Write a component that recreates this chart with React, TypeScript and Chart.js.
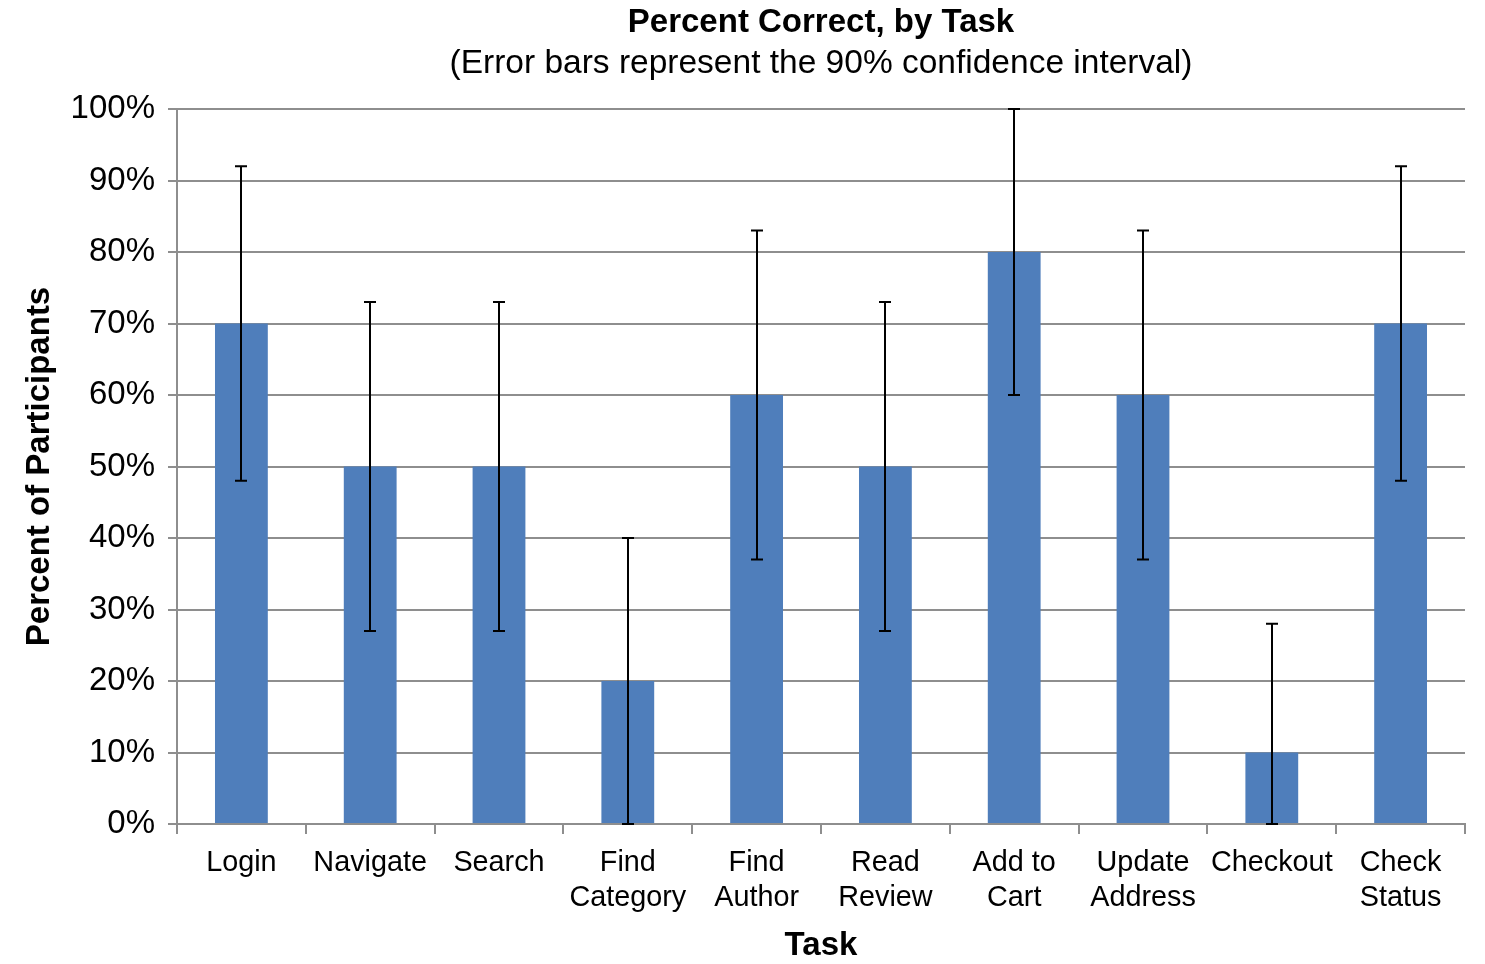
import React, { useEffect, useRef } from "react";
import { Chart, registerables } from "chart.js";

Chart.register(...registerables);

const categories: (string | string[])[] = [
  "Login",
  "Navigate",
  "Search",
  ["Find", "Category"],
  ["Find", "Author"],
  ["Read", "Review"],
  ["Add to", "Cart"],
  ["Update", "Address"],
  "Checkout",
  ["Check", "Status"],
];
const percentCorrect = [70, 50, 50, 20, 60, 50, 80, 60, 10, 70];
const ciLower = [48, 27, 27, 0, 37, 27, 60, 37, 0, 48];
const ciUpper = [92, 73, 73, 40, 83, 73, 100, 83, 28, 92];

const titleText = "Percent Correct, by Task";
const subtitleText = "(Error bars represent the 90% confidence interval)";
const xTitle = "Task";
const yTitle = "Percent of Participants";

const FONT = "'Liberation Sans', Arial, Helvetica, sans-serif";
const GRID = "#8e8e8e";

const errorBarPlugin = {
  id: "errorBars",
  afterDatasetsDraw(chart: any) {
    const meta = chart.getDatasetMeta(0);
    const y = chart.scales.y;
    const ctx = chart.ctx;
    ctx.save();
    ctx.strokeStyle = "#000";
    ctx.lineWidth = 2;
    meta.data.forEach((bar: any, i: number) => {
      const x = Math.round(bar.x);
      const yLo = y.getPixelForValue(ciLower[i]);
      const yHi = y.getPixelForValue(ciUpper[i]);
      const cap = 6;
      ctx.beginPath();
      ctx.moveTo(x, yLo);
      ctx.lineTo(x, yHi);
      ctx.moveTo(x - cap, yHi);
      ctx.lineTo(x + cap, yHi);
      ctx.moveTo(x - cap, yLo);
      ctx.lineTo(x + cap, yLo);
      ctx.stroke();
    });
    ctx.restore();
  },
};

const titlePlugin = {
  id: "centeredTitles",
  afterDraw(chart: any) {
    const ctx = chart.ctx;
    const { left, right } = chart.chartArea;
    const cx = (left + right) / 2;
    ctx.save();
    ctx.fillStyle = "#000";
    ctx.textAlign = "center";
    ctx.textBaseline = "middle";
    ctx.font = `bold 33px ${FONT}`;
    ctx.fillText(titleText, cx, 23);
    ctx.font = `33.5px ${FONT}`;
    ctx.fillText(subtitleText, cx, 64);
    ctx.restore();
  },
};

export default function App() {
  const ref = useRef<HTMLCanvasElement | null>(null);

  useEffect(() => {
    if (!ref.current) return;
    const chart = new Chart(ref.current, {
      type: "bar",
      data: {
        labels: categories,
        datasets: [
          {
            data: percentCorrect,
            backgroundColor: "#4f7ebb",
            borderWidth: 0,
            barPercentage: 0.41,
            categoryPercentage: 1.0,
          },
        ],
      },
      options: {
        animation: false,
        responsive: true,
        maintainAspectRatio: false,
        layout: { padding: { top: 109, right: 20, bottom: 0, left: 0 } },
        plugins: {
          legend: { display: false },
          tooltip: { enabled: false },
          title: { display: false },
        },
        scales: {
          x: {
            grid: {
              display: true,
              drawOnChartArea: false,
              drawTicks: true,
              tickLength: 10,
              color: GRID,
              lineWidth: 2,
              offset: true,
            },
            border: { display: true, color: GRID, width: 2 },
            ticks: {
              color: "#000",
              font: { family: FONT, size: 28.8, lineHeight: 1.22 },
              padding: 11,
              maxRotation: 0,
              autoSkip: false,
            },
            title: {
              display: true,
              text: xTitle,
              color: "#000",
              font: { family: FONT, size: 33, weight: "bold", lineHeight: 1.1 },
              padding: { top: 0, bottom: 0 },
            },
            afterFit(scale: any) {
              scale.height = 140;
            },
          },
          y: {
            min: 0,
            max: 100,
            grid: {
              color: GRID,
              lineWidth: 2,
              drawTicks: true,
              tickLength: 9,
            },
            border: { display: true, color: GRID, width: 2 },
            ticks: {
              stepSize: 10,
              color: "#000",
              font: { family: FONT, size: 33 },
              padding: 13,
              callback: (v: any) => `${v}%`,
            },
            title: {
              display: true,
              text: yTitle,
              color: "#000",
              font: { family: FONT, size: 33, weight: "bold", lineHeight: 1.2 },
              padding: { top: 20, bottom: 0 },
            },
            afterFit(scale: any) {
              scale.width = 177;
            },
          },
        },
      },
      plugins: [errorBarPlugin, titlePlugin],
    });
    return () => chart.destroy();
  }, []);

  return (
    <div
      style={{
        position: "fixed",
        left: 0,
        top: 0,
        width: 1485,
        height: 964,
        background: "#fff",
      }}
    >
      <canvas ref={ref} />
    </div>
  );
}
